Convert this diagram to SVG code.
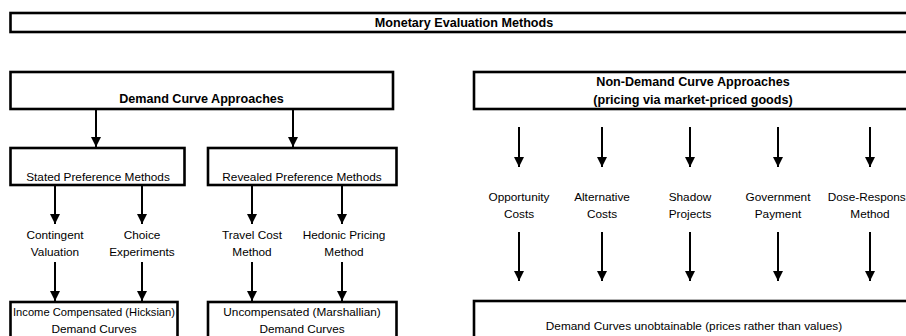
<svg xmlns="http://www.w3.org/2000/svg" width="906" height="336" viewBox="0 0 906 336">
<style>
.box{fill:#fff;stroke:#000;stroke-width:2.6}
.t{font-family:"Liberation Sans",Arial,sans-serif;font-size:11.8px;fill:#000;text-anchor:middle}
.b{font-family:"Liberation Sans",Arial,sans-serif;font-size:12.6px;font-weight:bold;fill:#000;text-anchor:middle}
.c{stroke:#000;stroke-width:2;fill:none;marker-end:url(#ah)}
</style>
<defs>
<marker id="ah" markerUnits="userSpaceOnUse" markerWidth="10" markerHeight="10" viewBox="0 0 10 10" refX="10" refY="5" orient="auto">
<path d="M0,0 L10,5 L0,10 Z" fill="#000"/>
</marker>
</defs>
<rect width="906" height="336" fill="#fff"/>
<g id="n-monetary">
<rect class="box" x="10.5" y="13" width="910" height="19"/>
<text class="b" x="464" y="27">Monetary Evaluation Methods</text>
</g>
<g id="n-demand">
<rect class="box" x="10.5" y="72" width="382.5" height="37"/>
<text class="b" x="201.5" y="103">Demand Curve Approaches</text>
</g>
<g id="n-nondemand">
<rect class="box" x="474" y="72" width="446" height="37"/>
<text class="b" x="693" y="86">Non-Demand Curve Approaches</text>
<text class="b" x="693" y="104">(pricing via market-priced goods)</text>
</g>
<g id="n-stated">
<rect class="box" x="10.5" y="148" width="174" height="37"/>
<text class="t" x="98" y="181">Stated Preference Methods</text>
</g>
<g id="n-revealed">
<rect class="box" x="208" y="148" width="188.5" height="37"/>
<text class="t" x="302" y="181">Revealed Preference Methods</text>
</g>
<g id="n-contingent"><text class="t" x="55" y="239">Contingent</text><text class="t" x="55" y="256">Valuation</text></g>
<g id="n-choice"><text class="t" x="142" y="239">Choice</text><text class="t" x="142" y="256">Experiments</text></g>
<g id="n-travel"><text class="t" x="252" y="239">Travel Cost</text><text class="t" x="252" y="256">Method</text></g>
<g id="n-hedonic"><text class="t" x="344" y="239">Hedonic Pricing</text><text class="t" x="344" y="256">Method</text></g>
<g id="n-opportunity"><text class="t" x="519" y="201">Opportunity</text><text class="t" x="519" y="218">Costs</text></g>
<g id="n-alternative"><text class="t" x="602" y="201">Alternative</text><text class="t" x="602" y="218">Costs</text></g>
<g id="n-shadow"><text class="t" x="690" y="201">Shadow</text><text class="t" x="690" y="218">Projects</text></g>
<g id="n-government"><text class="t" x="778" y="201">Government</text><text class="t" x="778" y="218">Payment</text></g>
<g id="n-dose"><text class="t" x="870" y="201">Dose-Response</text><text class="t" x="870" y="218">Method</text></g>
<g id="n-hicksian">
<rect class="box" x="10.5" y="302" width="167" height="40"/>
<text class="t" x="94" y="316" textLength="162" lengthAdjust="spacingAndGlyphs">Income Compensated (Hicksian)</text>
<text class="t" x="94" y="333">Demand Curves</text>
</g>
<g id="n-marshallian">
<rect class="box" x="208" y="302" width="188.5" height="40"/>
<text class="t" x="302" y="316">Uncompensated (Marshallian)</text>
<text class="t" x="302" y="333">Demand Curves</text>
</g>
<g id="n-unobtainable">
<rect class="box" x="474" y="301" width="446" height="40"/>
<text class="t" x="694" y="330">Demand Curves unobtainable (prices rather than values)</text>
</g>
<g id="connectors">
<line class="c" x1="96" y1="110" x2="96" y2="147"/>
<line class="c" x1="293" y1="110" x2="293" y2="147"/>
<line class="c" x1="55" y1="186" x2="55" y2="224"/>
<line class="c" x1="142" y1="186" x2="142" y2="224"/>
<line class="c" x1="252" y1="186" x2="252" y2="224"/>
<line class="c" x1="342" y1="186" x2="342" y2="224"/>
<line class="c" x1="55" y1="262" x2="55" y2="301"/>
<line class="c" x1="142" y1="262" x2="142" y2="301"/>
<line class="c" x1="252" y1="262" x2="252" y2="301"/>
<line class="c" x1="342" y1="262" x2="342" y2="301"/>
<line class="c" x1="519" y1="127" x2="519" y2="167"/>
<line class="c" x1="602" y1="127" x2="602" y2="167"/>
<line class="c" x1="690" y1="127" x2="690" y2="167"/>
<line class="c" x1="778" y1="127" x2="778" y2="167"/>
<line class="c" x1="870" y1="127" x2="870" y2="167"/>
<line class="c" x1="519" y1="232" x2="519" y2="281"/>
<line class="c" x1="602" y1="232" x2="602" y2="281"/>
<line class="c" x1="690" y1="232" x2="690" y2="281"/>
<line class="c" x1="778" y1="232" x2="778" y2="281"/>
<line class="c" x1="870" y1="232" x2="870" y2="281"/>
</g>
</svg>
